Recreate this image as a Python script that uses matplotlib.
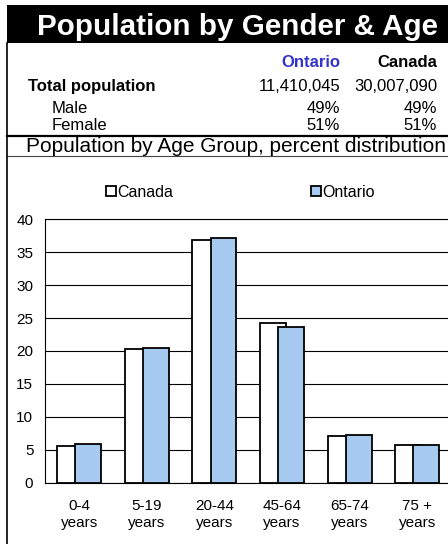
import numpy as np
import matplotlib.pyplot as plt
from matplotlib.lines import Line2D
from matplotlib.patches import Rectangle

plt.rcParams['font.family'] = 'Liberation Sans'

W, H = 448, 544

# data
age_groups = ['0-4\nyears', '5-19\nyears', '20-44\nyears', '45-64\nyears', '65-74\nyears', '75 +\nyears']
canada = [5.6, 20.3, 36.8, 24.3, 7.1, 5.8]
ontario = [5.9, 20.4, 37.1, 23.7, 7.2, 5.7]

regions = ['Ontario', 'Canada']
total_pop = ['11,410,045', '30,007,090']
male_pct = ['49%', '49%']
female_pct = ['51%', '51%']


def fx(x):
    return x / W


def fy(y):
    return 1 - y / H


fig = plt.figure(figsize=(W / 100, H / 100), dpi=100)

# title bar
fig.add_artist(Rectangle((fx(7), fy(43)), 1 - fx(7), fy(5) - fy(43),
                         transform=fig.transFigure, facecolor='black', edgecolor='none'))
fig.text(fx(37), fy(35), 'Population by Gender & Age', color='white', fontsize=21.3,
         fontweight='bold', ha='left', va='baseline')

# table
fig.text(fx(340), fy(66.7), regions[0], color='#3333CC', fontsize=12, fontweight='bold',
         ha='right', va='baseline')
fig.text(fx(437), fy(66.7), regions[1], color='black', fontsize=12, fontweight='bold',
         ha='right', va='baseline')
fig.text(fx(28), fy(90.7), 'Total population', fontsize=12, fontweight='bold', va='baseline')
fig.text(fx(52), fy(112.7), 'Male', fontsize=12, va='baseline')
fig.text(fx(52), fy(130), 'Female', fontsize=12, va='baseline')
for xr, t, m, f in zip([340, 437], total_pop, male_pct, female_pct):
    fig.text(fx(xr), fy(90.7), t, fontsize=12, ha='right', va='baseline')
    fig.text(fx(xr), fy(112.7), m, fontsize=12, ha='right', va='baseline')
    fig.text(fx(xr), fy(130), f, fontsize=12, ha='right', va='baseline')

# section lines
fig.add_artist(Line2D([fx(7), 1], [fy(136), fy(136)], color='black', lw=1.6))
fig.add_artist(Line2D([fx(7), 1], [fy(156), fy(156)], color='#444444', lw=0.8))
fig.add_artist(Line2D([fx(7), fx(7)], [fy(43), 0], color='black', lw=1.2))

fig.text(fx(26), fy(151.7), 'Population by Age Group, percent distribution', fontsize=15,
         va='baseline')

# chart
ax = fig.add_axes([fx(45.3), fy(482.7), fx(451) - fx(45.3), fy(219.3) - fy(482.7)])
x = np.arange(len(age_groups))
b1 = ax.bar(x - 0.135, canada, width=0.38, color='white', edgecolor='black', lw=1.3,
            label='Canada', zorder=2)
b2 = ax.bar(x + 0.135, ontario, width=0.38, color='#A6CAF0', edgecolor='black', lw=1.3,
            label='Ontario', zorder=3)

ax.set_xlim(-0.5, 5.5)
ax.set_ylim(0, 40)
ax.set_yticks(range(0, 41, 5))
ax.set_xticks(x)
ax.set_xticklabels(age_groups, linespacing=1.32)
ax.tick_params(axis='both', length=0, labelsize=11)
ax.tick_params(axis='y', pad=8.6)
ax.tick_params(axis='x', pad=11.5)
ax.yaxis.grid(True, color='black', lw=0.8)
ax.set_axisbelow(True)
ax.spines['right'].set_visible(False)
for s in ['left', 'bottom', 'top']:
    ax.spines[s].set_color('black')
    ax.spines[s].set_linewidth(0.8)

ax.legend(handles=[b1, b2], loc='center left', bbox_to_anchor=(fx(106), fy(192)),
          bbox_transform=fig.transFigure, ncol=2, frameon=False, fontsize=11.5,
          handlelength=0.62, handleheight=0.62, handletextpad=0.1, columnspacing=8.6,
          borderpad=0, borderaxespad=0)

fig.savefig('out.png', dpi=100)
